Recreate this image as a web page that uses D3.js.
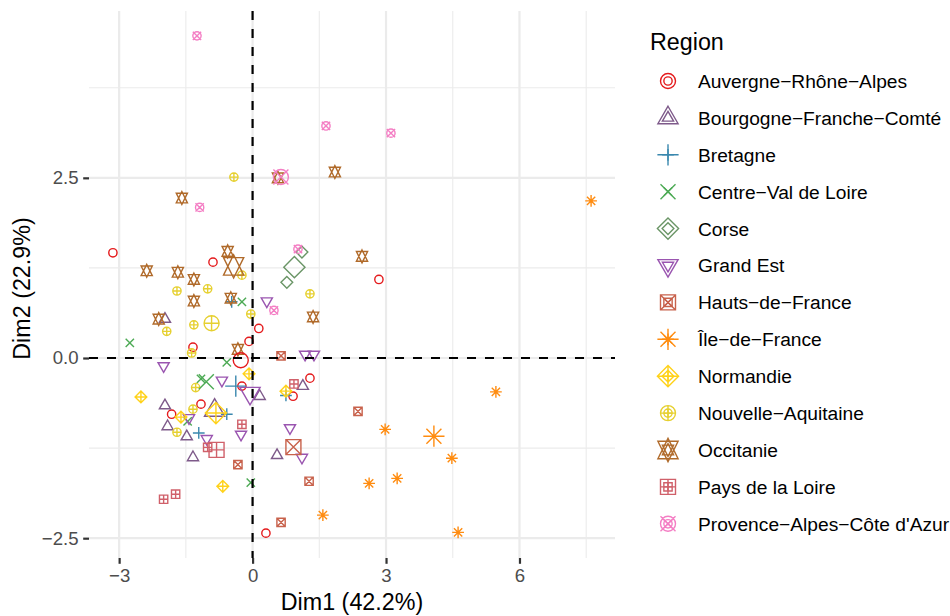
<!DOCTYPE html>
<html>
<head>
<meta charset="utf-8">
<script src="https://cdn.jsdelivr.net/npm/d3@7"></script>
<style>
  body { margin: 0; background: #fff; }
  svg { display: block; font-family: "Liberation Sans", Arial, Helvetica, sans-serif; }
</style>
</head>
<body>
<div id="chart"></div>
<script>
// regions (legend order) and the colour / R pch of each
const regions = [
  "Auvergne−Rhône−Alpes", "Bourgogne−Franche−Comté", "Bretagne", "Centre−Val de Loire",
  "Corse", "Grand Est", "Hauts−de−France", "Île−de−France", "Normandie",
  "Nouvelle−Aquitaine", "Occitanie", "Pays de la Loire", "Provence−Alpes−Côte d'Azur"
];
const palette = ["#E41A1C", "#7E5A8A", "#3A88AE", "#4DAA55", "#6A9566", "#9A55B0", "#C8624C",
  "#FF8C10", "#FFD21A", "#E6D030", "#B06A2A", "#D0606A", "#F47EC4"];
const shapes = [1, 2, 3, 4, 5, 6, 7, 8, 9, 10, 11, 12, 13];

// number of individuals per region, in the order of dim1 / dim2 below
const counts = [12, 8, 4, 6, 2, 10, 5, 8, 5, 12, 13, 5, 6];

const dim1 = [
  -3.14, -0.89, 2.84, -1.34, -0.08, 0.14, -0.24, -1.16, -1.82, 0.91, 1.29, 0.30, // Auvergne
  -1.97, -1.97, -1.91, -1.48, -1.34, 0.16, 0.55, 1.13,                            // Bourgogne
  -0.47, -0.58, -1.21, 0.75,                                                      // Bretagne
  -0.24, -2.76, -0.58, -1.16, -1.46, -0.04,                                       // Centre
  1.11, 0.77,                                                                     // Corse
  0.32, -2.00, -0.69, -1.43, -1.03, -0.26, 0.84, 1.11, 1.18, 1.38,                // Grand Est
  0.64, 2.37, 1.27, 0.64, -0.33,                                                  // Hauts
  7.61, 5.47, 4.48, 4.62, 2.98, 2.62, 3.25, 1.58,                                 // IdF
  -2.51, -0.08, -1.61, -0.67, 0.75,                                               // Normandie
  -0.42, -0.24, -1.70, -1.01, -0.04, -1.93, -1.32, -1.37, -1.28, -1.34, -1.70, 1.29, // N-Aquitaine
  0.57, 1.85, -1.59, -0.56, 2.46, -2.38, -1.68, -1.32, -1.32, -0.49, -2.11, 1.36, -0.33, // Occitanie
  0.93, -0.24, -1.01, -2.00, -1.73,                                               // Pays de la Loire
  -1.25, 1.65, 3.11, -1.19, 1.02, 0.48                                            // PACA
];
const dim2 = [
  1.46, 1.33, 1.09, 0.15, 0.23, 0.41, -0.39, -0.64, -0.78, -0.53, -0.28, -2.43,
  0.54, -0.66, -0.95, -1.09, -1.38, -0.53, -1.35, -0.39,
  0.78, -0.78, -1.04, -0.52,
  0.78, 0.21, -0.06, -0.29, -0.88, -1.73,
  1.47, 1.05,
  0.79, -0.11, -0.31, -0.83, -1.12, -1.06, -0.97, -1.38, 0.05, 0.05,
  0.03, -0.74, -1.71, -2.28, -1.48,
  2.18, -0.47, -1.39, -2.42, -0.99, -1.74, -1.67, -2.18,
  -0.54, -0.22, -0.82, -1.78, -0.46,
  2.51, 1.15, 0.93, 0.96, 0.61, 0.37, 0.46, 0.07, -0.41, -0.71, -1.03, 0.89,
  2.50, 2.58, 2.22, 1.48, 1.41, 1.21, 1.19, 1.09, 0.79, 0.83, 0.54, 0.57, 0.12,
  -0.36, -0.92, -1.24, -1.96, -1.89,
  4.47, 3.22, 3.12, 2.09, 1.51, 0.66
];

const xTicks = [-3, 0, 3, 6], xMinor = [-1.5, 1.5, 4.5, 7.5];
const yTicks = [-2.5, 0, 2.5], yMinor = [-1.25, 1.25, 3.75];
const xTitle = "Dim1 (42.2%)", yTitle = "Dim2 (22.9%)", legendTitle = "Region";

const width = 950, height = 616;
const panel = { left: 89, right: 615, top: 11, bottom: 558 };
const smallR = 4.15, bigR = 7.5, lw = 1.4;

const grp = counts.flatMap((n, i) => d3.range(n).map(() => i));
const points = dim1.map((d, i) => ({ x: d, y: dim2[i], g: grp[i] }));
const means = regions.map((r, i) => {
  const p = points.filter(d => d.g === i);
  return { x: d3.mean(p, d => d.x), y: d3.mean(p, d => d.y), g: i };
});

// ggplot style 5% expansion
const expand = ext => { const e = (ext[1] - ext[0]) * 0.05; return [ext[0] - e, ext[1] + e]; };
const x = d3.scaleLinear().domain(expand(d3.extent(dim1))).range([panel.left, panel.right]);
const y = d3.scaleLinear().domain(expand(d3.extent(dim2))).range([panel.bottom, panel.top]);

// R pch symbols 1..13 as svg paths
const TRC0 = Math.sqrt(4 * Math.PI / (3 * Math.sqrt(3))), TRC1 = TRC0 * Math.sqrt(3) / 2, TRC2 = TRC0 / 2;
function pchPath(pch, r) {
  const s = Math.SQRT2 * r;
  const circle = `M${r},0A${r},${r} 0 1,1 ${-r},0A${r},${r} 0 1,1 ${r},0Z`;
  const cross = `M${-r},${-r}L${r},${r}M${-r},${r}L${r},${-r}`;
  const plus = a => `M${-a},0L${a},0M0,${-a}L0,${a}`;
  const square = `M${-r},${-r}H${r}V${r}H${-r}Z`;
  const diamond = `M0,${-s}L${s},0L0,${s}L${-s},0Z`;
  const tri = (a, b) => `M0,${-a}L${TRC1 * r},${b}L${-TRC1 * r},${b}Z`;
  const yc = 0.5 * (TRC2 + TRC0) * r;
  switch (pch) {
    case 1: return circle;
    case 2: return tri(TRC0 * r, TRC2 * r);
    case 3: return plus(s);
    case 4: return cross;
    case 5: return diamond;
    case 6: return tri(-TRC0 * r, -TRC2 * r);
    case 7: return square + cross;
    case 8: return cross + plus(s);
    case 9: return diamond + plus(s);
    case 10: return circle + plus(r);
    case 11: return tri(TRC0 * r, yc) + tri(-TRC0 * r, -yc);
    case 12: return square + plus(r);
    case 13: return circle + cross;
  }
}

const svg = d3.select("#chart").append("svg")
  .attr("width", width).attr("height", height);

// grid
const grid = svg.append("g").attr("stroke", "#EBEBEB").attr("fill", "none");
grid.selectAll(".vminor").data(xMinor).join("line")
  .attr("x1", d => x(d)).attr("x2", d => x(d)).attr("y1", panel.top).attr("y2", panel.bottom)
  .attr("stroke-width", 1.1);
grid.selectAll(".hminor").data(yMinor).join("line")
  .attr("y1", d => y(d)).attr("y2", d => y(d)).attr("x1", panel.left).attr("x2", panel.right)
  .attr("stroke-width", 1.1);
grid.selectAll(".vmajor").data(xTicks).join("line")
  .attr("x1", d => x(d)).attr("x2", d => x(d)).attr("y1", panel.top).attr("y2", panel.bottom)
  .attr("stroke-width", 2.2);
grid.selectAll(".hmajor").data(yTicks).join("line")
  .attr("y1", d => y(d)).attr("y2", d => y(d)).attr("x1", panel.left).attr("x2", panel.right)
  .attr("stroke-width", 2.2);

// individuals, then group means
svg.append("g").attr("fill", "none").attr("stroke-width", lw)
  .selectAll("path").data(points).join("path")
  .attr("transform", d => `translate(${x(d.x)},${y(d.y)})`)
  .attr("d", d => pchPath(shapes[d.g], smallR))
  .attr("stroke", d => palette[d.g]);

svg.append("g").attr("fill", "none").attr("stroke-width", lw)
  .selectAll("path").data(means).join("path")
  .attr("transform", d => `translate(${x(d.x)},${y(d.y)})`)
  .attr("d", d => pchPath(shapes[d.g], bigR))
  .attr("stroke", d => palette[d.g]);

// dashed axes lines
svg.append("line")
  .attr("x1", panel.left).attr("x2", panel.right).attr("y1", y(0)).attr("y2", y(0))
  .attr("stroke", "#000").attr("stroke-width", 2.2).attr("stroke-dasharray", "9,9");
svg.append("line")
  .attr("x1", x(0)).attr("x2", x(0)).attr("y1", panel.top).attr("y2", panel.bottom)
  .attr("stroke", "#000").attr("stroke-width", 2.2).attr("stroke-dasharray", "9,9");

// axes
const xAxis = svg.append("g").attr("transform", `translate(0,${panel.bottom})`)
  .call(d3.axisBottom(x).tickValues(xTicks).tickFormat(d3.format("d")).tickSize(5.8).tickPadding(4.7));
const yAxis = svg.append("g").attr("transform", `translate(${panel.left},0)`)
  .call(d3.axisLeft(y).tickValues(yTicks).tickFormat(d3.format(".1f")).tickSize(5.8).tickPadding(4.7));
[xAxis, yAxis].forEach(a => {
  a.select(".domain").remove();
  a.selectAll(".tick line").attr("stroke", "#333333").attr("stroke-width", 2.2);
  a.selectAll(".tick text").attr("fill", "#4D4D4D").style("font-size", "18.6px");
});

svg.append("text")
  .attr("x", (panel.left + panel.right) / 2).attr("y", 610)
  .attr("text-anchor", "middle").style("font-size", "23.3px").text(xTitle);
svg.append("text")
  .attr("transform", `translate(30,${(panel.top + panel.bottom) / 2 + 4}) rotate(-90)`)
  .attr("text-anchor", "middle").style("font-size", "23.3px").text(yTitle);

// legend
const legend = svg.append("g");
legend.append("text").attr("x", 650).attr("y", 50).style("font-size", "23.3px").text(legendTitle);
const item = legend.selectAll(".item").data(regions).join("g")
  .attr("transform", (d, i) => `translate(668,${81 + i * 36.9})`);
item.append("path").attr("d", (d, i) => pchPath(shapes[i], smallR))
  .attr("fill", "none").attr("stroke", (d, i) => palette[i]).attr("stroke-width", lw);
item.append("path").attr("d", (d, i) => pchPath(shapes[i], bigR))
  .attr("fill", "none").attr("stroke", (d, i) => palette[i]).attr("stroke-width", lw);
item.append("text").attr("x", 30).attr("dy", "0.36em").style("font-size", "19.2px").text(d => d);
</script>
</body>
</html>
